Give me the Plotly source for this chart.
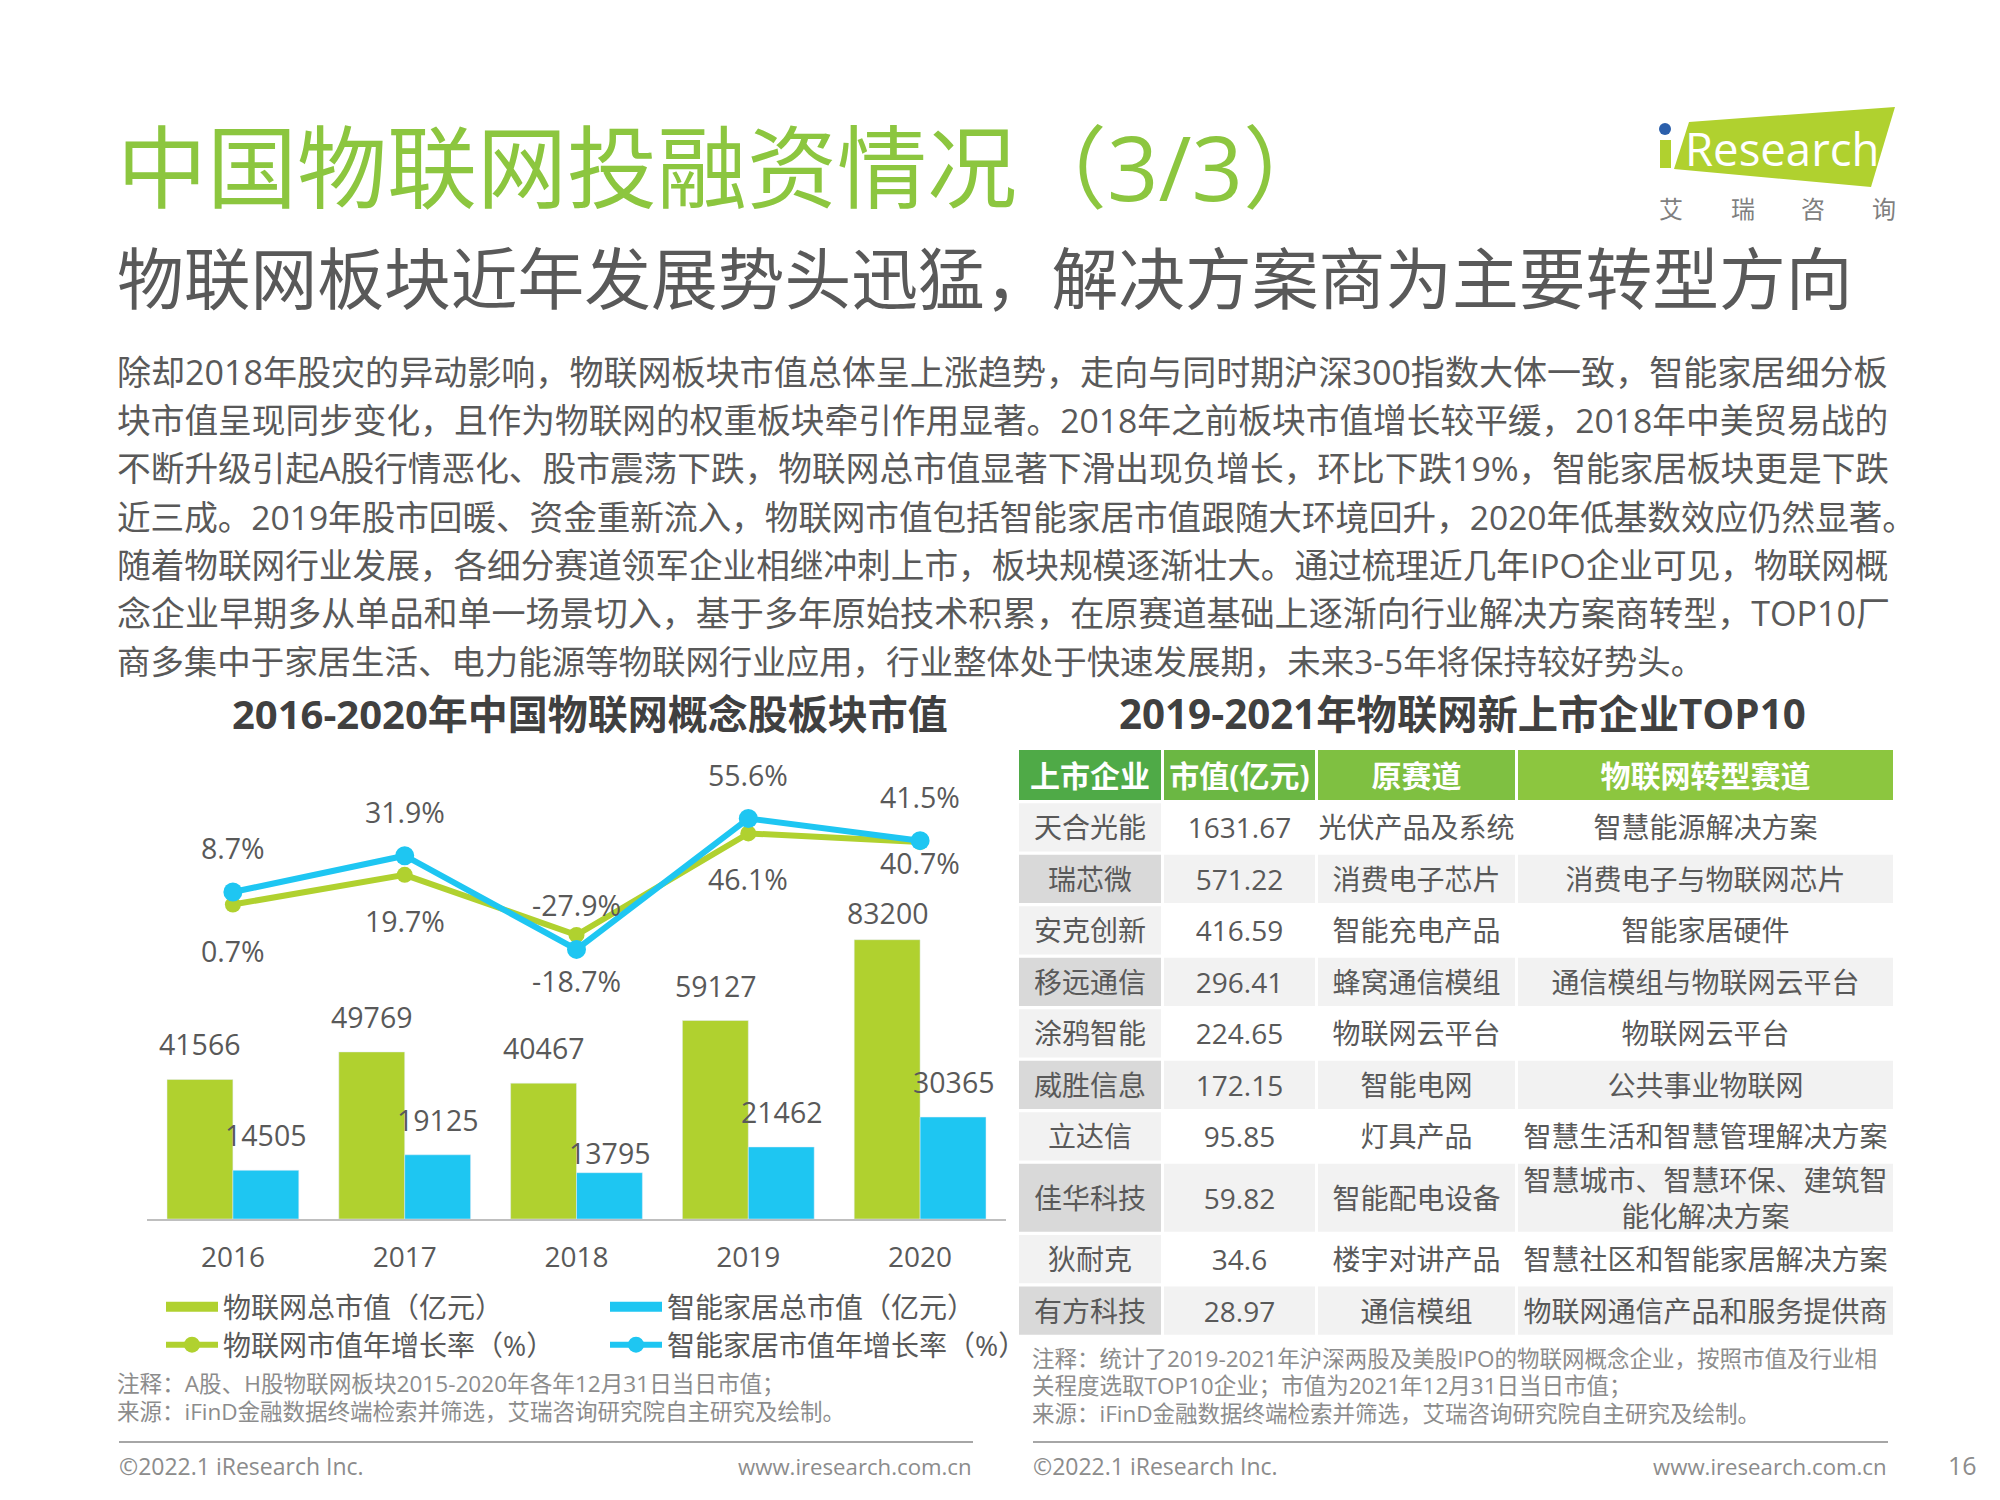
import plotly.graph_objects as go

FONT = "Open Sans, Noto Sans CJK SC"
W, H = 2000, 1500
GREEN = "#B0D12F"
BLUE = "#1EC6F2"
DARK = "#595959"
NOTE = "#8C8C8C"

years = ["2016", "2017", "2018", "2019", "2020"]
iot_value = [41566, 49769, 40467, 59127, 83200]
home_value = [14505, 19125, 13795, 21462, 30365]
iot_growth = [0.7, 19.7, -18.7, 46.1, 40.7]
home_growth = [8.7, 31.9, -27.9, 55.6, 41.5]

# how far each label sits from its mark, in pixels
iot_value_shift = [35, 35, 35, 35, 27]
home_value_shift = [35, 35, 20, 35, 35]
iot_growth_shift = [-46, -46, -46, -46, -21]
home_growth_shift = [44, 44, 44, 44, 44]

title = "中国物联网投融资情况（3/3）"
subtitle = "物联网板块近年发展势头迅猛，解决方案商为主要转型方向"
body_lines = [
    "除却2018年股灾的异动影响，物联网板块市值总体呈上涨趋势，走向与同时期沪深300指数大体一致，智能家居细分板",
    "块市值呈现同步变化，且作为物联网的权重板块牵引作用显著。2018年之前板块市值增长较平缓，2018年中美贸易战的",
    "不断升级引起A股行情恶化、股市震荡下跌，物联网总市值显著下滑出现负增长，环比下跌19%，智能家居板块更是下跌",
    "近三成。2019年股市回暖、资金重新流入，物联网市值包括智能家居市值跟随大环境回升，2020年低基数效应仍然显著。",
    "随着物联网行业发展，各细分赛道领军企业相继冲刺上市，板块规模逐渐壮大。通过梳理近几年IPO企业可见，物联网概",
    "念企业早期多从单品和单一场景切入，基于多年原始技术积累，在原赛道基础上逐渐向行业解决方案商转型，TOP10厂",
    "商多集中于家居生活、电力能源等物联网行业应用，行业整体处于快速发展期，未来3-5年将保持较好势头。",
]
# the source text is justified, so each line gets its own size
body_sizes = [34.05, 33.7, 33.7, 33.6, 33.65, 34.05, 33.45]

table_header = ["上市企业", "市值(亿元)", "原赛道", "物联网转型赛道"]
companies = ["天合光能", "瑞芯微", "安克创新", "移远通信", "涂鸦智能", "威胜信息", "立达信", "佳华科技", "狄耐克", "有方科技"]
market_caps = ["1631.67", "571.22", "416.59", "296.41", "224.65", "172.15", "95.85", "59.82", "34.6", "28.97"]
old_tracks = ["光伏产品及系统", "消费电子芯片", "智能充电产品", "蜂窝通信模组", "物联网云平台", "智能电网", "灯具产品", "智能配电设备", "楼宇对讲产品", "通信模组"]
new_tracks = [
    "智慧能源解决方案", "消费电子与物联网芯片", "智能家居硬件", "通信模组与物联网云平台", "物联网云平台",
    "公共事业物联网", "智慧生活和智慧管理解决方案", "智慧城市、智慧环保、建筑智<br>能化解决方案",
    "智慧社区和智能家居解决方案", "物联网通信产品和服务提供商",
]

# table geometry, in page pixels
col_lefts = [1019, 1164, 1318, 1518]
col_widths = [142, 151, 197, 375]
row_heights = [50, 48.2, 48.2, 48.2, 48.2, 48.2, 48.2, 48.2, 68, 48.2, 48.2]
row_gap = 3.3
table_top = 750
header_fills = ["#4FAA47", "#6BB743", "#7FC041", "#8CC63F"]


def px(x):
    return x / W


def py(y):
    return 1 - y / H


def label(text, x, y, size, color=DARK, anchor="left", bold=False):
    # text placed by pixel position on the page
    fig.add_annotation(
        text=f"<b>{text}</b>" if bold else text, x=px(x), y=py(y), xref="paper", yref="paper",
        xanchor=anchor, yanchor="middle", showarrow=False,
        font=dict(family=FONT, size=size, color=color),
    )


def data_label(text, i, y, yref, xshift, yshift):
    fig.add_annotation(
        text=text, x=i, y=y, xref="x", yref=yref, xshift=xshift, yshift=yshift,
        xanchor="center", yanchor="middle", showarrow=False,
        font=dict(family=FONT, size=28.5, color=DARK),
    )


def legend_box(x, y):
    return dict(
        orientation="v", x=px(x), y=py(y), xanchor="left", yanchor="top", itemwidth=52,
        bgcolor="rgba(0,0,0,0)", font=dict(family=FONT, size=28, color=DARK),
    )


fig = go.Figure()

fig.add_trace(go.Bar(x=years, y=iot_value, marker_color=GREEN, showlegend=False, legendgroup="iot"))
fig.add_trace(go.Bar(x=years, y=home_value, marker_color=BLUE, showlegend=False, legendgroup="home"))

# thick empty lines stand in for the wide bar swatches of the legend
fig.add_trace(go.Scatter(x=[None], y=[None], mode="lines", name="物联网总市值（亿元）", legendgroup="iot",
                         line=dict(color=GREEN, width=17), legend="legend"))
fig.add_trace(go.Scatter(x=[None], y=[None], mode="lines", name="智能家居总市值（亿元）", legendgroup="home",
                         line=dict(color=BLUE, width=17), legend="legend2"))

fig.add_trace(go.Scatter(x=years, y=iot_growth, yaxis="y2", mode="lines+markers", name="物联网市值年增长率（%）",
                         line=dict(color=GREEN, width=6), marker=dict(size=16, color=GREEN), legend="legend3"))
fig.add_trace(go.Scatter(x=years, y=home_growth, yaxis="y2", mode="lines+markers", name="智能家居市值年增长率（%）",
                         line=dict(color=BLUE, width=6), marker=dict(size=19, color=BLUE), legend="legend4"))

# the table is one bar trace on its own axes, since go.Table cannot give a single row its own height
columns = [companies, market_caps, old_tracks, new_tracks]
bar_y, bar_h, bar_x, bar_base, bar_fill, bar_text, bar_color, bar_size = [], [], [], [], [], [], [], []
top = table_top
for r, height in enumerate(row_heights):
    for c in range(len(columns)):
        if r == 0:
            fill, text, color, size = header_fills[c], f"<b>{table_header[c]}</b>", "white", 30
        else:
            if c == 0:
                fill = "#F2F2F2" if r % 2 == 1 else "#D9D9D9"
            else:
                fill = "#FFFFFF" if r % 2 == 1 else "#F2F2F2"
            text, color, size = columns[c][r - 1], DARK, 28
        bar_y.append(top + height / 2)
        bar_h.append(height)
        bar_x.append(col_widths[c])
        bar_base.append(col_lefts[c])
        bar_fill.append(fill)
        bar_text.append(text)
        bar_color.append(color)
        bar_size.append(size)
    top += height + row_gap

fig.add_trace(go.Bar(
    x=bar_x, y=bar_y, base=bar_base, width=bar_h, orientation="h", xaxis="x2", yaxis="y3",
    marker=dict(color=bar_fill, line_width=0), showlegend=False,
    text=bar_text, textposition="inside", insidetextanchor="middle", textangle=0, constraintext="none",
    insidetextfont=dict(family=FONT, size=bar_size, color=bar_color), hoverinfo="skip",
))

fig.update_layout(
    width=W, height=H, autosize=False, margin=dict(l=0, r=0, t=0, b=0),
    paper_bgcolor="white", plot_bgcolor="rgba(0,0,0,0)",
    barmode="group", bargap=0.233, bargroupgap=0,
    font=dict(family=FONT, size=28, color=DARK),
    xaxis=dict(
        domain=[px(147), px(1006)], type="category", categoryorder="array", categoryarray=years,
        range=[-0.5, 4.5], showgrid=False, zeroline=False, showline=True, linecolor="#BFBFBF", linewidth=2,
        ticks="outside", ticklen=12, tickcolor="rgba(0,0,0,0)", tickfont=dict(size=28, color=DARK),
    ),
    yaxis=dict(domain=[py(1219), py(749)], range=[0, 140000], visible=False),
    yaxis2=dict(domain=[py(1219), py(749)], range=[-200, 100], overlaying="y", visible=False),
    xaxis2=dict(domain=[px(1010), px(1920)], range=[1010, 1920], visible=False),
    yaxis3=dict(domain=[py(1340), py(745)], range=[1340, 745], visible=False),
    legend=legend_box(161, 1282),
    legend2=legend_box(605, 1282),
    legend3=legend_box(161, 1320),
    legend4=legend_box(605, 1320),
)

for i in range(len(years)):
    data_label(f"{iot_value[i]}", i, iot_value[i], "y", -33, iot_value_shift[i])
    data_label(f"{home_value[i]}", i, home_value[i], "y", 33, home_value_shift[i])
    data_label(f"{home_growth[i]}%", i, home_growth[i], "y2", 0, home_growth_shift[i])
    data_label(f"{iot_growth[i]}%", i, iot_growth[i], "y2", 0, iot_growth_shift[i])

# page text
label(title, 115, 166, 90, "#8CC63F")
label(subtitle, 115, 278, 66.75, DARK)
for i, line in enumerate(body_lines):
    label(line, 115, 372 + i * 48.2, body_sizes[i], DARK)

label("2016-2020年中国物联网概念股板块市值", 590, 713.5, 40, "#404040", "center", True)
label("2019-2021年物联网新上市企业TOP10", 1462, 713.5, 40.3, "#404040", "center", True)

label("注释：A股、H股物联网板块2015-2020年各年12月31日当日市值；", 115, 1383, 22.6, NOTE)
label("来源：iFinD金融数据终端检索并筛选，艾瑞咨询研究院自主研究及绘制。", 115, 1411, 22.5, NOTE)
label("注释：统计了2019-2021年沪深两股及美股IPO的物联网概念企业，按照市值及行业相", 1030, 1358, 22.5, NOTE)
label("关程度选取TOP10企业；市值为2021年12月31日当日市值；", 1030, 1385, 22.5, NOTE)
label("来源：iFinD金融数据终端检索并筛选，艾瑞咨询研究院自主研究及绘制。", 1030, 1413, 22.5, NOTE)

# footer
for x0, x1 in [(119, 973), (1033, 1888)]:
    fig.add_shape(type="line", xref="paper", yref="paper", x0=px(x0), x1=px(x1), y0=py(1442), y1=py(1442),
                  line=dict(color="#A6A6A6", width=2))
label("©2022.1 iResearch Inc.", 116.5, 1466, 23, NOTE)
label("www.iresearch.com.cn", 974, 1466, 22.2, NOTE, "right")
label("©2022.1 iResearch Inc.", 1030.5, 1466, 23, NOTE)
label("www.iresearch.com.cn", 1889, 1466, 22.2, NOTE, "right")
label("16", 1962, 1465, 25, NOTE, "center")

# logo
logo = [(1689, 122), (1895, 107), (1871, 187), (1674, 169)]
path = "M" + " L".join(f"{px(x)},{py(y)}" for x, y in logo) + " Z"
fig.add_shape(type="path", path=path, xref="paper", yref="paper", fillcolor="#B0D12F", line_width=0)
fig.add_shape(type="rect", xref="paper", yref="paper", x0=px(1660), x1=px(1671), y0=py(168), y1=py(140),
              fillcolor="#B0D12F", line_width=0)
fig.add_shape(type="circle", xref="paper", yref="paper", x0=px(1659), x1=px(1671), y0=py(135), y1=py(123),
              fillcolor="#2B5FAB", line_width=0)
label("Research", 1782, 148, 45.5, "white", "center")
for ch, x in zip("艾瑞咨询", [1671, 1743, 1813, 1884]):
    label(ch, x, 208, 24, "#7F7F7F", "center")

# plotly's page keeps the browser's default body margin
fig.write_html("out.html", config={"displayModeBar": False}, post_script="document.body.style.margin = '0';")
